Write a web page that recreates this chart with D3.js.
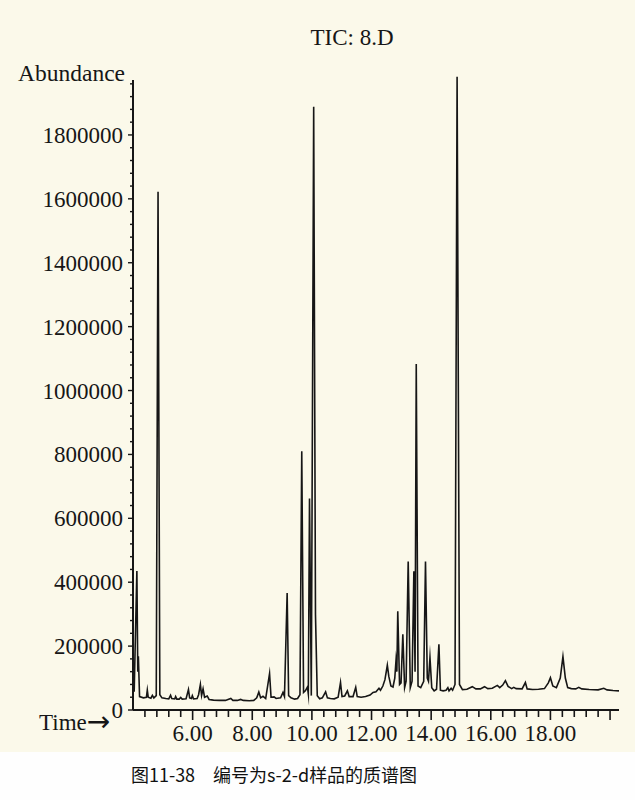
<!DOCTYPE html>
<html>
<head>
<meta charset="utf-8">
<script src="https://cdn.jsdelivr.net/npm/d3@7"></script>
<style>
  html, body { margin: 0; padding: 0; background: #fefefe; }
  svg { display: block; }
</style>
</head>
<body>
<svg id="chart" width="635" height="800"></svg>
<script>
// ---- data ----
const title = "TIC: 8.D";
const yAxisLabel = "Abundance";
const xAxisWord = "Time";
const xAxisArrow = "→";
const caption = "图11-38　编号为s-2-d样品的质谱图";
const xTickLabels = [6, 8, 10, 12, 14, 16, 18];
const yTickLabels = [0, 200000, 400000, 600000, 800000, 1000000, 1200000, 1400000, 1600000, 1800000];

// retention times (min)
const times = [
  4.03, 4.04, 4.13, 4.16, 4.18, 4.22, 4.35, 4.45, 4.48, 4.51, 4.60, 4.65, 4.70, 4.78, 4.84, 4.90, 4.97,
  5.10, 5.20, 5.26, 5.30, 5.40, 5.43, 5.47, 5.55, 5.60, 5.65, 5.78, 5.86, 5.90, 5.96, 5.99,
  6.03, 6.15, 6.20, 6.26, 6.30, 6.35, 6.40, 6.49, 6.55, 6.70, 6.90, 7.10, 7.28, 7.35, 7.50, 7.61, 7.70, 7.90,
  8.05, 8.15, 8.22, 8.28, 8.36, 8.45, 8.58, 8.63, 8.73, 8.80, 8.95, 9.03, 9.08, 9.17, 9.22, 9.30, 9.42, 9.52,
  9.60, 9.66, 9.72, 9.78, 9.85, 9.88, 9.92, 9.98, 10.06, 10.12, 10.18, 10.26, 10.35, 10.46, 10.52, 10.62,
  10.75, 10.88, 10.96, 11.01, 11.10, 11.19, 11.25, 11.38, 11.47, 11.52, 11.65, 11.80, 11.95, 12.05, 12.15,
  12.25, 12.30, 12.38, 12.45, 12.53, 12.58, 12.65, 12.72, 12.78, 12.82, 12.85, 12.88, 12.94, 12.99, 13.05,
  13.11, 13.16, 13.23, 13.30, 13.36, 13.42, 13.46, 13.50, 13.56, 13.65, 13.75, 13.81, 13.87, 13.91, 13.96,
  14.02, 14.10, 14.18, 14.26, 14.31, 14.40, 14.50, 14.56, 14.60, 14.67, 14.72, 14.80, 14.87, 14.95, 15.05,
  15.20, 15.38, 15.50, 15.65, 15.79, 15.90, 16.05, 16.22, 16.30, 16.40, 16.49, 16.58, 16.70, 16.77, 16.85,
  17.05, 17.16, 17.22, 17.40, 17.60, 17.80, 17.93, 18.00, 18.08, 18.20, 18.33, 18.42, 18.50, 18.58, 18.70,
  18.85, 18.95, 19.05, 19.30, 19.60, 19.79, 19.90, 20.10, 20.30
];
// abundance at each retention time
const abundance = [
  60000, 60000, 435000, 120000, 168000, 42000, 38000, 40000, 62000, 40000, 37000, 46000, 38000, 45000, 1622000, 48000, 38000,
  36000, 35000, 46000, 36000, 35000, 42000, 34000, 34000, 39000, 34000, 35000, 64000, 38000, 36000, 45000,
  35000, 36000, 48000, 80000, 45000, 66000, 40000, 44000, 33000, 31000, 30000, 30000, 36000, 30000, 30000, 33000, 30000, 29000,
  30000, 38000, 56000, 38000, 43000, 36000, 114000, 40000, 41000, 36000, 38000, 55000, 42000, 366000, 45000, 38000, 34000, 36000,
  48000, 810000, 55000, 60000, 72000, 50000, 662000, 45000, 1888000, 300000, 45000, 35000, 38000, 57000, 38000, 36000,
  35000, 40000, 86000, 42000, 44000, 60000, 42000, 42000, 71000, 42000, 40000, 42000, 47000, 55000, 57000,
  68000, 62000, 75000, 95000, 140000, 105000, 75000, 72000, 100000, 154000, 120000, 309000, 80000, 85000, 237000,
  70000, 90000, 465000, 70000, 90000, 434000, 120000, 1083000, 75000, 70000, 90000, 465000, 100000, 90000, 164000,
  70000, 60000, 65000, 206000, 62000, 60000, 62000, 70000, 60000, 68000, 62000, 80000, 1982000, 80000, 64000,
  65000, 73000, 66000, 66000, 73000, 67000, 68000, 77000, 70000, 78000, 92000, 74000, 67000, 71000, 67000,
  66000, 86000, 66000, 64000, 65000, 67000, 85000, 101000, 75000, 70000, 100000, 167000, 100000, 70000, 67000,
  66000, 71000, 66000, 64000, 63000, 68000, 63000, 61000, 60000
];

// ---- layout ----
(function () {
const svg = d3.select("#chart");
const W = 635, H = 800;
const mLeft = 133, mRight = 619, mTop = 80, mBottom = 710;
const serif = "'Liberation Serif', 'Times New Roman', serif";
const ink = "#161616";
const fs = 23;

svg.append("rect").attr("x", 0).attr("y", 0).attr("width", W).attr("height", 752).attr("fill", "#fbf9ea");
svg.append("rect").attr("x", 0).attr("y", 752).attr("width", W).attr("height", H - 752).attr("fill", "#fefefe");

const x = d3.scaleLinear().domain([4.0, 20.3]).range([mLeft, mRight]);
const y = d3.scaleLinear().domain([0, 1972000]).range([mBottom, mTop]);

// trace
const pts = times.map((t, i) => [t, abundance[i]]);
svg.append("path")
  .datum(pts)
  .attr("fill", "none")
  .attr("stroke", ink)
  .attr("stroke-width", 1.6)
  .attr("stroke-linejoin", "miter")
  .attr("stroke-miterlimit", 20)
  .attr("d", d3.line().x(d => x(d[0])).y(d => y(d[1])));

// y axis
const yMinor = d3.range(0, 1960001, 40000);
const yAx = svg.append("g").attr("transform", `translate(${mLeft},0)`);
yAx.append("line").attr("x1", 0).attr("x2", 0).attr("y1", mTop).attr("y2", mBottom).attr("stroke", ink).attr("stroke-width", 2);
yAx.selectAll("line.minor").data(yMinor).join("line").attr("class", "minor")
  .attr("x1", d => yTickLabels.includes(d) ? -5 : -3).attr("x2", 0)
  .attr("y1", d => y(d)).attr("y2", d => y(d))
  .attr("stroke", ink).attr("stroke-width", 1.4);
yAx.selectAll("text").data(yTickLabels).join("text")
  .attr("x", -10).attr("y", d => y(d)).attr("dy", "0.35em")
  .attr("text-anchor", "end")
  .attr("font-family", serif).attr("font-size", fs).attr("fill", ink)
  .text(d => d3.format("d")(d));

// x axis
const xMinor = d3.range(4.0, 20.31, 0.4).map(v => +v.toFixed(2));
const xMajor = [6, 8, 10, 12, 14, 16, 18, 20];
const xAx = svg.append("g").attr("transform", `translate(0,${mBottom})`);
xAx.append("line").attr("x1", mLeft).attr("x2", mRight).attr("y1", 0).attr("y2", 0).attr("stroke", ink).attr("stroke-width", 2);
xAx.selectAll("line.tick").data(xMinor.filter(v => v > 4.1)).join("line").attr("class", "tick")
  .attr("x1", d => x(d)).attr("x2", d => x(d))
  .attr("y1", 0).attr("y2", d => xMajor.some(m => Math.abs(m - d) < 0.01) ? 10 : 7)
  .attr("stroke", ink).attr("stroke-width", 1.6);
xAx.selectAll("text").data(xTickLabels).join("text")
  .attr("x", d => x(d)).attr("y", 31)
  .attr("text-anchor", "middle")
  .attr("font-family", serif).attr("font-size", fs).attr("fill", ink)
  .text(d => d3.format(".2f")(d));

// labels
svg.append("text").attr("x", 352).attr("y", 45).attr("text-anchor", "middle")
  .attr("font-family", serif).attr("font-size", fs).attr("fill", ink).text(title);
svg.append("text").attr("x", 125).attr("y", 81).attr("text-anchor", "end")
  .attr("font-family", serif).attr("font-size", 23.5).attr("fill", ink).text(yAxisLabel);
const tl = svg.append("text").attr("x", 39).attr("y", 730).attr("text-anchor", "start")
  .attr("font-family", serif).attr("font-size", fs).attr("fill", ink);
tl.append("tspan").text(xAxisWord);
tl.append("tspan").attr("font-family", "'DejaVu Sans', sans-serif").attr("font-size", 28).attr("dy", 1).text(xAxisArrow);

svg.append("text").attr("x", 131).attr("y", 782).attr("text-anchor", "start")
  .attr("font-family", "'Noto Sans CJK SC', sans-serif").attr("font-size", 18).attr("fill", "#111")
  .attr("textLength", 286).attr("lengthAdjust", "spacing")
  .text(caption);
})();
</script>
</body>
</html>
